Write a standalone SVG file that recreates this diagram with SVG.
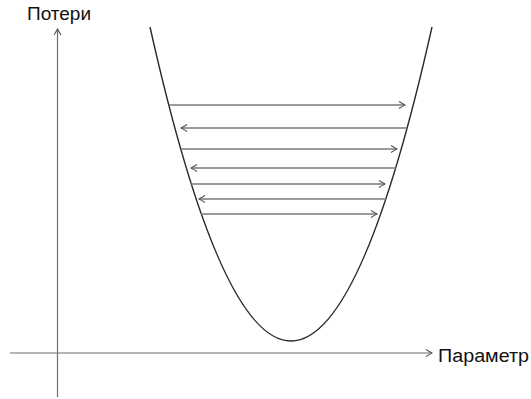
<svg xmlns="http://www.w3.org/2000/svg" width="531" height="399" viewBox="0 0 531 399">
<style>
.axis{stroke:#6e6e6e;stroke-width:1.2;fill:none}
.curve{stroke:#2a2a2a;stroke-width:1.4;fill:none}
.step{stroke:#7a7a7a;stroke-width:1.3;fill:none}
.lbl{font-family:"Liberation Sans",Arial,sans-serif;font-size:18px;fill:#111}
</style>
<defs>
<marker id="ah" viewBox="0 0 8 8" refX="7" refY="4" markerWidth="8" markerHeight="8" markerUnits="userSpaceOnUse" orient="auto">
<path d="M1,0.5 Q5,3 7,4 Q5,5 1,7.5" fill="none" stroke="#555" stroke-width="1.1"/>
</marker>
</defs>
<g id="axes">
<line class="axis" x1="57.5" y1="397" x2="57.5" y2="29" marker-end="url(#ah)"/>
<line class="axis" x1="10" y1="353" x2="432" y2="353" marker-end="url(#ah)"/>
</g>
<g id="labels">
<text class="lbl" x="27" y="20" textLength="64" lengthAdjust="spacingAndGlyphs">Потери</text>
<text class="lbl" x="438" y="361.5" textLength="91" lengthAdjust="spacingAndGlyphs">Параметр</text>
</g>
<g id="parabola">
<path class="curve" d="M150,27 Q291,655 432,27"/>
</g>
<g id="connectors">
<line class="step" x1="169" y1="105" x2="405" y2="105" marker-end="url(#ah)"/>
<line class="step" x1="407" y1="128" x2="181" y2="128" marker-end="url(#ah)"/>
<line class="step" x1="181" y1="149" x2="397" y2="149" marker-end="url(#ah)"/>
<line class="step" x1="396" y1="168" x2="191" y2="168" marker-end="url(#ah)"/>
<line class="step" x1="191" y1="184" x2="385" y2="184" marker-end="url(#ah)"/>
<line class="step" x1="386" y1="199" x2="199" y2="199" marker-end="url(#ah)"/>
<line class="step" x1="201" y1="214" x2="377" y2="214" marker-end="url(#ah)"/>
</g>
</svg>
